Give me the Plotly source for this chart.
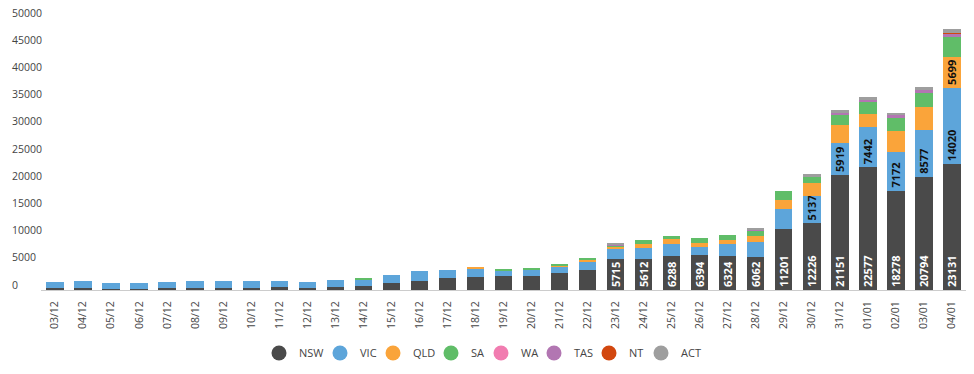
import plotly.graph_objects as go

dates = ["03/12", "04/12", "05/12", "06/12", "07/12", "08/12", "09/12", "10/12", "11/12",
         "12/12", "13/12", "14/12", "15/12", "16/12", "17/12", "18/12", "19/12", "20/12",
         "21/12", "22/12", "23/12", "24/12", "25/12", "26/12", "27/12", "28/12", "29/12",
         "30/12", "31/12", "01/01", "02/01", "03/01", "04/01"]

NSW = [290, 290, 250, 250, 290, 400, 400, 420, 620, 430, 550, 780, 1360, 1742, 2213,
       2482, 2566, 2501, 3057, 3763, 5715, 5612, 6288, 6394, 6324, 6062, 11201, 12226,
       21151, 22577, 18278, 20794, 23131]
VIC = [1160, 1360, 1040, 1040, 1130, 1250, 1250, 1230, 980, 1020, 1200, 1170, 1420, 1670,
       1480, 1480, 990, 1240, 1350, 1540, 1990, 2150, 2150, 1480, 2100, 2700, 3700, 5137,
       5919, 7442, 7172, 8577, 14020]
QLD = [0, 0, 0, 0, 0, 0, 0, 0, 0, 0, 0, 0, 0, 0, 0, 150, 100, 100, 180, 250, 260,
       610, 870, 740, 740, 1230, 1670, 2280, 3200, 2390, 3690, 4300, 5699]
SA = [0, 0, 0, 0, 0, 0, 0, 0, 0, 0, 0, 120, 0, 0, 0, 0, 120, 80, 90, 300, 240,
      740, 680, 870, 990, 930, 1600, 1170, 1900, 2170, 2480, 2540, 3600]
WA = [0, 0, 0, 0, 0, 0, 0, 0, 0, 0, 0, 0, 0, 0, 0, 0, 0, 0, 0, 0, 0,
      0, 0, 0, 0, 0, 0, 0, 0, 0, 0, 0, 0]
TAS = [0, 0, 0, 0, 0, 0, 0, 0, 0, 0, 0, 0, 0, 0, 0, 0, 0, 0, 0, 0, 60,
       0, 0, 0, 0, 200, 0, 100, 300, 300, 500, 610, 610]
NT = [0, 0, 0, 0, 0, 0, 0, 0, 0, 0, 0, 0, 0, 0, 0, 0, 0, 0, 0, 0, 0,
      0, 0, 0, 0, 0, 0, 0, 0, 0, 0, 0, 150]
ACT = [0, 0, 0, 0, 0, 0, 0, 0, 0, 0, 0, 0, 0, 0, 0, 0, 0, 0, 0, 0, 420,
       0, 0, 0, 0, 120, 0, 350, 600, 600, 430, 500, 700]

y_ticks = [0, 5000, 10000, 15000, 20000, 25000, 30000, 35000, 40000, 45000, 50000]

# name, values, colour, label colour, legend entry width (px, styling only)
series = [
    ("NSW", NSW, "#4A4A4A", "#FFFFFF", 16),
    ("VIC", VIC, "#5DA5DA", "#111111", 8),
    ("QLD", QLD, "#FAA43A", "#111111", 13),
    ("SA", SA, "#60BD68", "#111111", 5),
    ("WA", WA, "#F17CB0", "#111111", 8),
    ("TAS", TAS, "#B276B2", "#111111", 10),
    ("NT", NT, "#D2470F", "#111111", 7),
    ("ACT", ACT, "#9E9E9E", "#111111", 21),
]

LABEL_MIN = 5000

fig = go.Figure()
for name, vals, color, tcolor, lw in series:
    fig.add_trace(go.Bar(
        x=dates, y=vals, name=name, marker=dict(color=color, line=dict(width=0)),
        text=[str(v) if v >= LABEL_MIN else "" for v in vals],
        textposition="inside", insidetextanchor="start", textangle=-90,
        constraintext="none",
        insidetextfont=dict(family="Open Sans", size=11, color=tcolor, weight="bold"),
        showlegend=False, hoverinfo="skip",
    ))

for name, vals, color, tcolor, lw in series:
    fig.add_trace(go.Scatter(
        x=[None], y=[None], mode="markers", name=name,
        marker=dict(symbol="circle", size=15, color=color),
        showlegend=True, hoverinfo="skip", legendwidth=lw,
    ))

L, R, T, B = 41, 8, 18, 84
plot_w = 974 - L - R

annotations = []
for v in y_ticks:
    annotations.append(dict(
        x=(10 - L) / plot_w, xref="paper", xanchor="left",
        y=v, yref="y", yanchor="middle", yshift=5.5,
        text=str(v), showarrow=False,
        font=dict(family="Open Sans", size=10.5, color="#444444"),
    ))

fig.update_layout(
    width=974, height=374,
    margin=dict(l=L, r=R, t=T, b=B, pad=0, autoexpand=False),
    paper_bgcolor="white", plot_bgcolor="white",
    barmode="stack", bargap=0.38,
    font=dict(family="Open Sans", color="#444444"),
    showlegend=True,
    legend=dict(
        orientation="h", traceorder="normal",
        x=(259 - L) / plot_w, xanchor="left",
        y=(290 - 353) / 272, yanchor="middle",
        font=dict(family="Open Sans", size=11, color="#444444"),
        itemsizing="trace", bgcolor="rgba(0,0,0,0)",
    ),
    xaxis=dict(
        type="category", range=[-0.5, len(dates) - 0.5], tickangle=-90, automargin=False,
        showgrid=False, zeroline=False, showline=True, linecolor="#CCCCCC", linewidth=1,
        ticks="outside", ticklen=6, tickcolor="rgba(0,0,0,0)",
        tickfont=dict(family="Open Sans", size=10.5, color="#444444"),
    ),
    yaxis=dict(
        range=[0, 50000], showgrid=False, zeroline=False, showline=False, automargin=False,
        showticklabels=False, ticks="",
    ),
    annotations=annotations,
    hovermode=False,
)

fig.write_html(
    "out.html",
    config={"displayModeBar": False},
    post_script="document.body.style.margin='0';document.body.style.padding='0';",
)
